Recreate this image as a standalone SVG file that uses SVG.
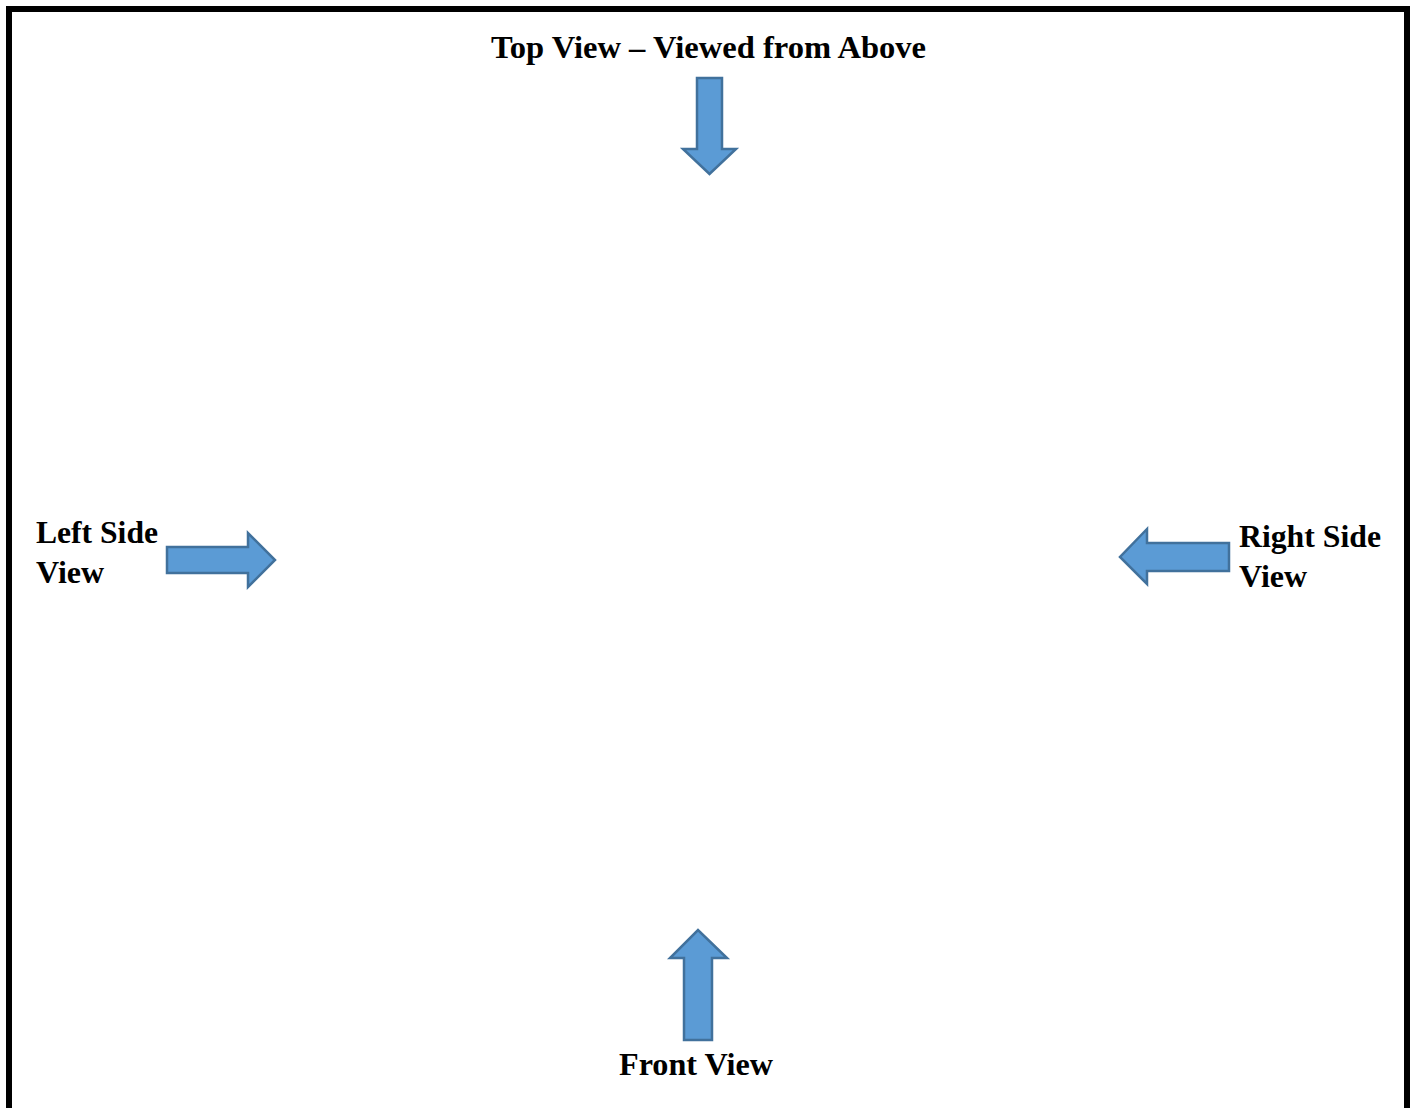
<svg xmlns="http://www.w3.org/2000/svg" width="1413" height="1108" viewBox="0 0 1413 1108">
<style>
.lbl{font-family:"Liberation Serif","Times New Roman",serif;font-weight:bold;font-size:32px;fill:#000}
.arr{fill:#5b9bd5;stroke:#41719c;stroke-width:2.5;stroke-linejoin:miter}
</style>
<rect x="0" y="0" width="1413" height="1108" fill="#fff"/>
<rect id="frame" x="9" y="9" width="1398" height="1120" fill="none" stroke="#000" stroke-width="6"/>
<g id="top-view">
<text class="lbl" x="491" y="58" textLength="435" lengthAdjust="spacingAndGlyphs">Top View – Viewed from Above</text>
</g>
<g id="left-side-view">
<text class="lbl" x="36" y="543" textLength="122" lengthAdjust="spacingAndGlyphs">Left Side</text>
<text class="lbl" x="36" y="583">View</text>
</g>
<g id="right-side-view">
<text class="lbl" x="1239" y="547" textLength="142" lengthAdjust="spacingAndGlyphs">Right Side</text>
<text class="lbl" x="1239" y="587">View</text>
</g>
<g id="front-view">
<text class="lbl" x="619" y="1075" textLength="154" lengthAdjust="spacingAndGlyphs">Front View</text>
</g>
<g id="connectors">
<polygon class="arr" points="697,78 722,78 722,149 736,149 709.5,174 683,149 697,149"/>
<polygon class="arr" points="167,547 248,547 248,533 275,560 248,587 248,573 167,573"/>
<polygon class="arr" points="1229,543 1147,543 1147,529 1120,557 1147,584 1147,571 1229,571"/>
<polygon class="arr" points="684,1040 684,958 670,958 698,930 727,958 712,958 712,1040"/>
</g>
</svg>
